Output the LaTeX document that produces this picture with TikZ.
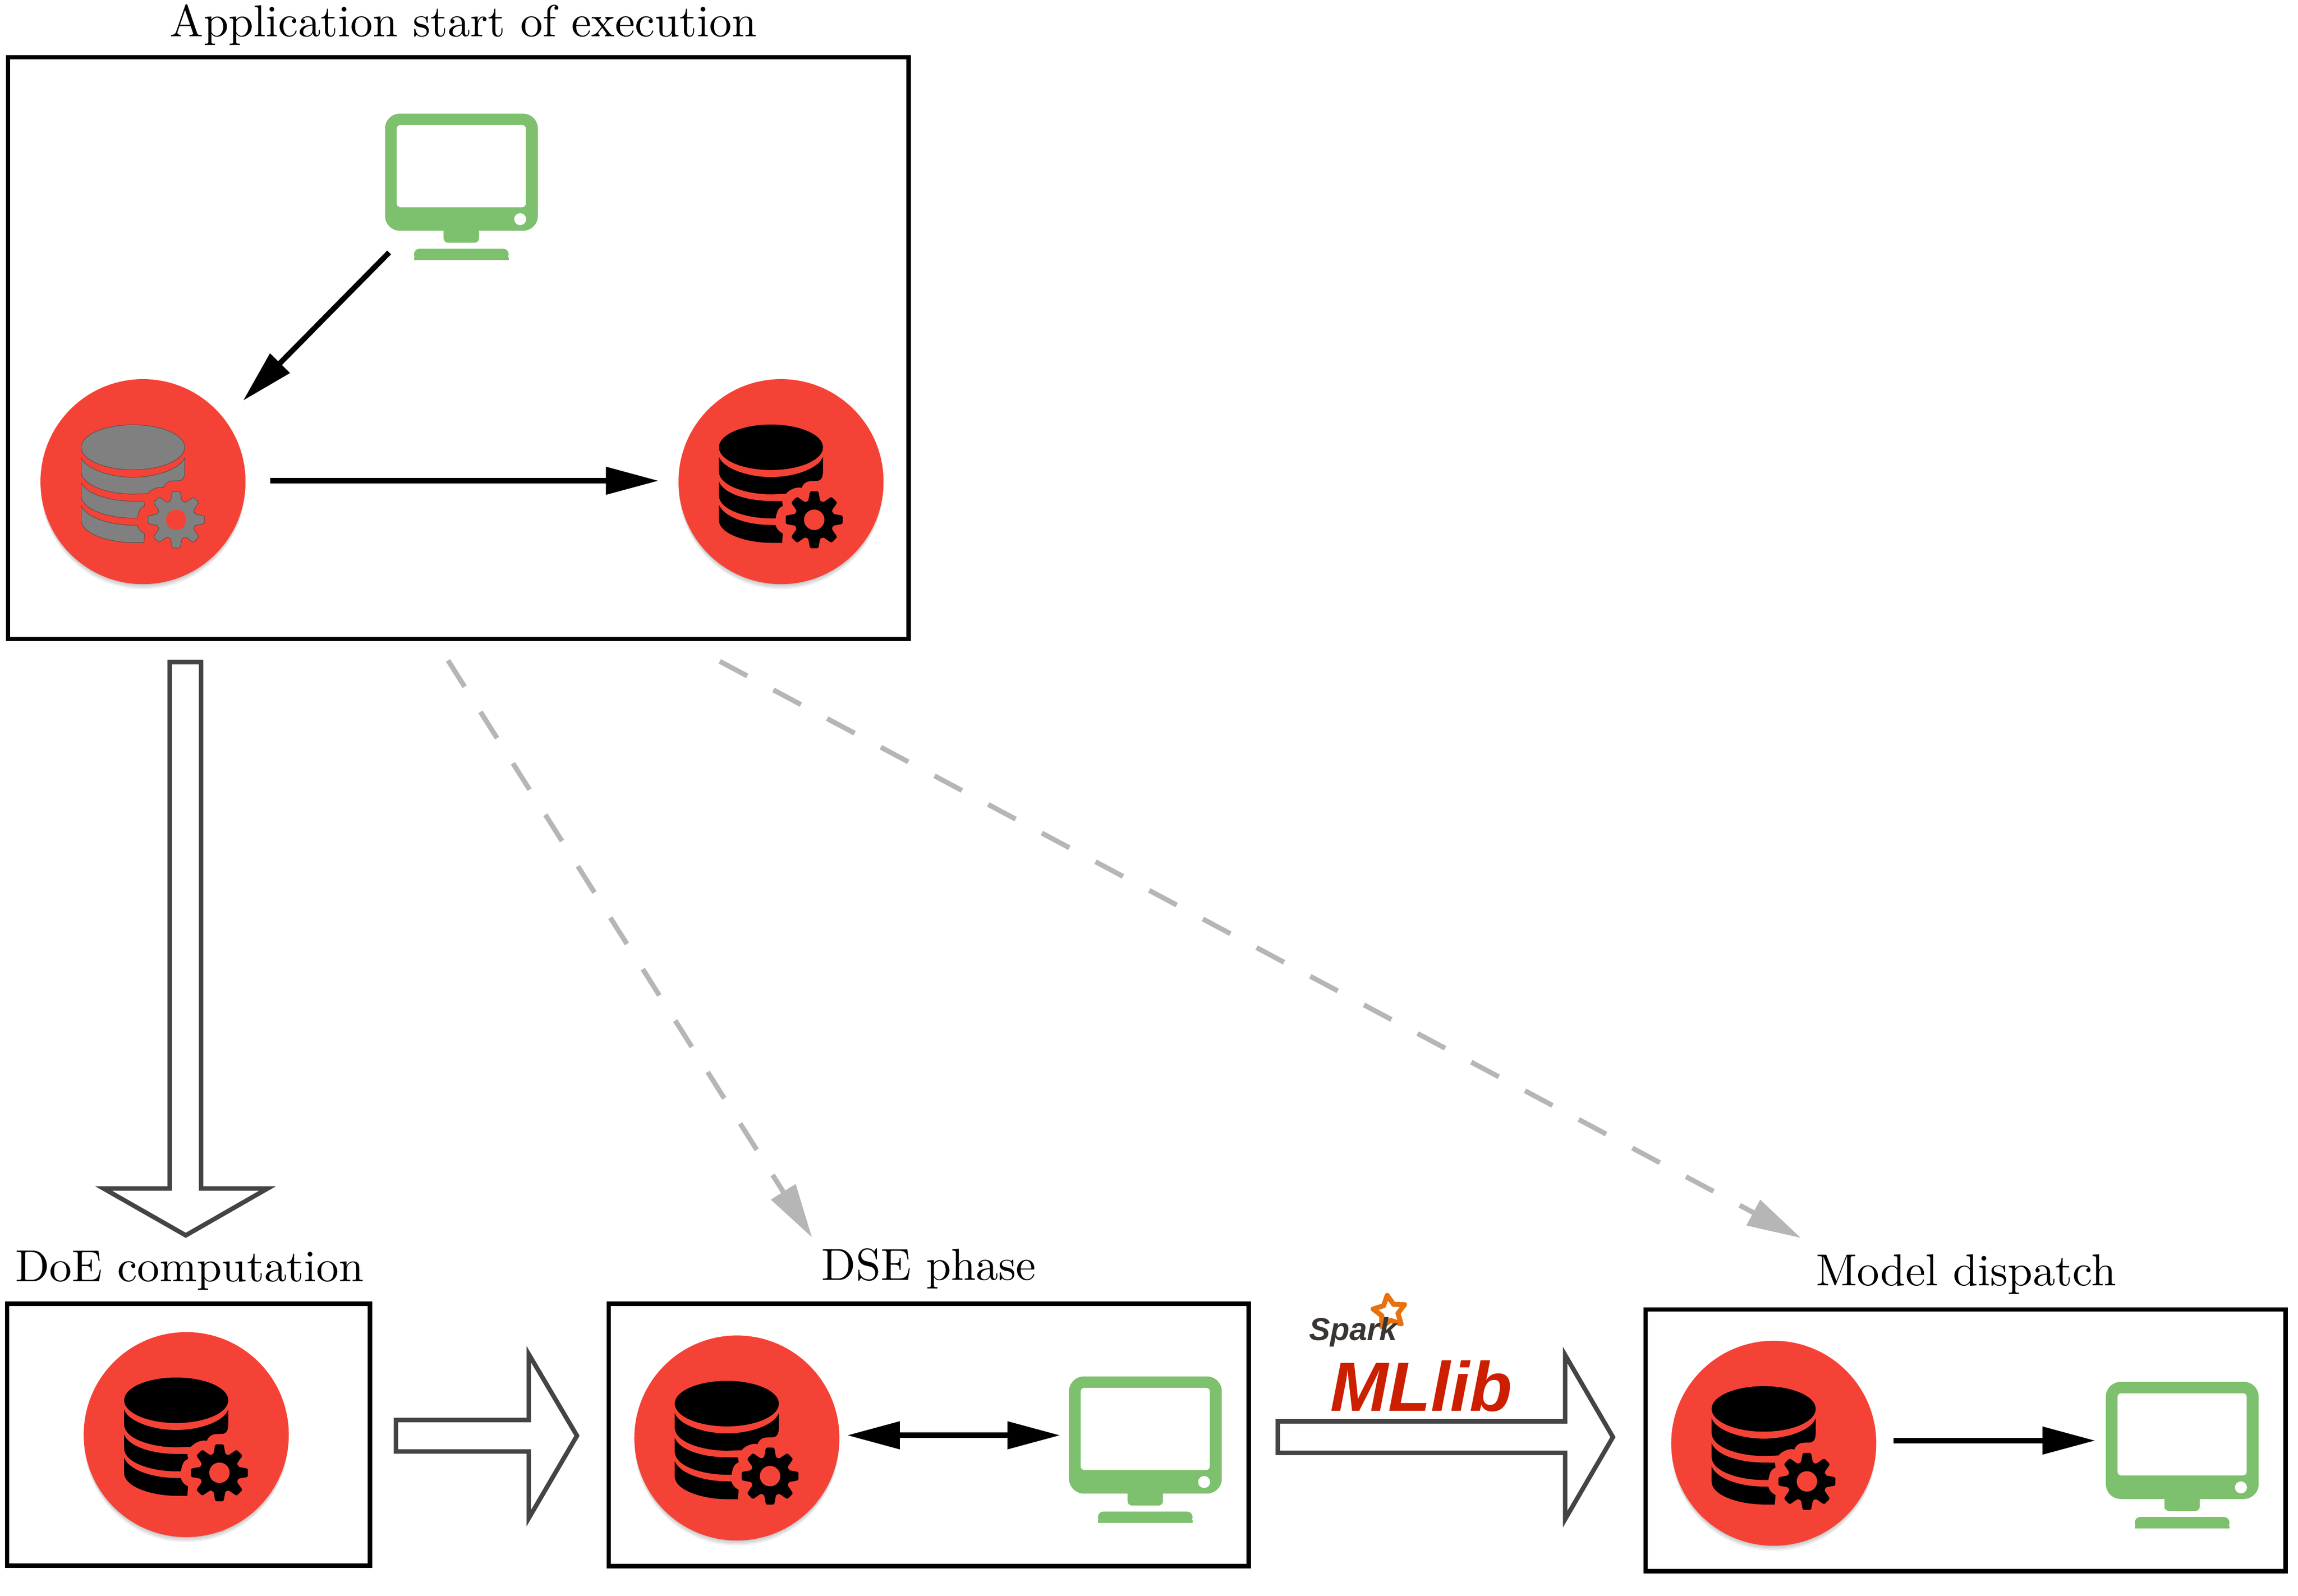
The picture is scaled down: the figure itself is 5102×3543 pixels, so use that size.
\documentclass[tikz,border=0pt]{standalone}
\usepackage{fontspec}
\newfontfamily\logofont{Liberation Sans}
\usetikzlibrary{arrows.meta,calc}
\definecolor{iconred}{HTML}{F44336}
\definecolor{icongreen}{HTML}{7DC06D}
\definecolor{arrowdark}{HTML}{444444}
\definecolor{dashgray}{HTML}{B6B6B6}
\definecolor{mlred}{HTML}{CC1F00}
\definecolor{sparkdark}{HTML}{3A3533}
\definecolor{sparkorange}{HTML}{E8710F}
\tikzset{
  frame/.style={draw=black,line width=0.1cm,rectangle,outer sep=0pt,inner sep=0pt},
  title/.style={scale=2.83,inner sep=0pt,anchor=base},
  disc/.style={circle,fill=iconred,minimum size=4.55cm,inner sep=0pt,outer sep=0.58cm},
  screen/.style={rectangle,minimum width=3.39cm,minimum height=3.25cm,inner sep=0pt,outer sep=0pt},
  thinarrow/.style={line width=0.12cm,draw=black,-{Triangle[length=1.17cm,width=0.59cm]}},
  bothways/.style={line width=0.12cm,draw=black,{Triangle[length=1.17cm,width=0.59cm]}-{Triangle[length=1.17cm,width=0.59cm]}},
  dasharrow/.style={line width=0.11cm,draw=dashgray,dash pattern=on 0.69cm off 0.66cm,-{Triangle[length=1.2cm,width=0.62cm]}},
  hollow/.style={draw=arrowdark,fill=white,line width=0.1cm,line join=miter,miter limit=10},
}
\newcommand{\DbIcon}[3]{% disc node, fill, outline
  \begin{scope}[shift={(#1.center)},scale=1/3]
    \fill[#2,draw=#3,line width=0.3pt] (-67,-229) ellipse [x radius=345,y radius=150];
    \fill[#2,draw=#3,line width=0.3pt] (-412,-159) .. controls (-380,-85) and (-220,-29) .. (-67,-29)
      .. controls (90,-29) and (245,-85) .. (278,-159) -- (278,-70)
      .. controls (278,-30) and (265,-10) .. (245,-7) -- (195,-5)
      .. controls (165,-3) and (145,15) .. (136,40)
      .. controls (120,32) and (65,40) .. (30,80)
      -- (-67,83) .. controls (-220,83) and (-412,30) .. (-412,-70) -- cycle;
    \fill[#2,draw=#3,line width=0.3pt] (-412,6) .. controls (-375,85) and (-220,130) .. (-67,130)
      -- (6,131) -- (10,161) .. controls (-10,170) and (-27,180) .. (-37,243)
      -- (-67,243) .. controls (-220,243) and (-412,190) .. (-412,90) -- cycle;
    \fill[#2,draw=#3,line width=0.3pt] (-412,161) .. controls (-375,240) and (-220,290) .. (-67,290)
      -- (-37,291) .. controls (-30,320) and (-10,335) .. (10,346) -- (6,406)
      -- (-67,406) .. controls (-220,406) and (-412,350) .. (-412,255) -- cycle;
    \begin{scope}[shift={(221,254)}]
      \fill[#2,draw=#3,line width=0.3pt,rounded corners=0.03cm] (-17:130)
        foreach \a in {0,45,...,315} { -- (\a-17:130) -- (\a-8:190) -- (\a+8:190) -- (\a+17:130) } -- cycle;
      \fill[iconred] (0,0) circle [radius=68];
    \end{scope}
  \end{scope}}
\newcommand{\DiscShadow}[2]{% x y
  \foreach \o in {3,6,9,12} {
    \fill[black,opacity=0.055] (#1,#2+\o) circle [radius=227];
  }}
\newcommand{\ScreenIcon}[1]{%
  \begin{scope}[shift={(#1.center)},scale=1/3]
    \fill[icongreen,rounded corners=0.33cm] (-509,-488) rectangle (509,292);
    \fill[white,rounded corners=0.08cm] (-431,-412) rectangle (429,135);
    \fill[white] (391,215) circle [radius=40];
    \fill[icongreen,rounded corners=0.1cm] (-119,250) -- (-119,372) -- (117,372) -- (117,250) -- cycle;
    \fill[icongreen,rounded corners=0.12cm] (-316,488) -- (-316,412) -- (314,412) -- (314,488) -- cycle;
    \fill[icongreen] (-316,470) rectangle (314,488);
  \end{scope}}
\begin{document}
\begin{tikzpicture}[x=0.01cm,y=-0.01cm]
  \useasboundingbox (0,0) rectangle (5102,3543);
  % frames
  \node[frame,minimum width=19.986cm,minimum height=12.91cm] (top) at (1017.7,773) {};
  \node[frame,minimum width=8.05cm,minimum height=5.81cm] (doe) at (418.5,3185.5) {};
  \node[frame,minimum width=14.2cm,minimum height=5.82cm] (dse) at (2062,3186) {};
  \node[frame,minimum width=14.2cm,minimum height=5.805cm] (model) at (4364,3198) {};
  % titles
  \node[title] (ttop) at (1029,81) {Application start of execution};
  \node[title] (tdoe) at (421,2845) {DoE computation};
  \node[title] (tdse) at (2062,2842) {DSE phase};
  \node[title] (tmodel) at (4365,2855) {Model dispatch};
  % discs
  \DiscShadow{317.5}{1069.5}\DiscShadow{1734}{1069.5}\DiscShadow{413.5}{3185.5}\DiscShadow{1636}{3193}\DiscShadow{3938}{3204.7}
  \node[disc] (c1) at (317.5,1069.5) {};
  \node[disc] (c2) at (1734,1069.5) {};
  \node[disc] (c3) at (413.5,3185.5) {};
  \node[disc] (c4) at (1636,3193) {};
  \node[disc] (c5) at (3938,3204.7) {};
  \DbIcon{c1}{gray}{black!70}
  \DbIcon{c2}{black}{black}
  \DbIcon{c3}{black}{black}
  \DbIcon{c4}{black}{black}
  \DbIcon{c5}{black}{black}
  % monitors
  \node[screen] (m1) at (1024.5,415) {};
  \node[screen] (m2) at (2543,3219) {};
  \node[screen] (m3) at (4845,3231) {};
  \ScreenIcon{m1}
  \ScreenIcon{m2}
  \ScreenIcon{m3}
  % black arrows
  \draw[thinarrow] ([xshift=0.09cm,yshift=0.17cm]m1.south west) -- (c1.39.5);
  \draw[thinarrow,shorten <=-0.03cm,shorten >=-0.14cm] ([yshift=0.02cm]c1.east) -- ([yshift=0.02cm]c2.west);
  \draw[bothways,shorten <=-0.41cm,shorten >=0.195cm] ([yshift=0.06cm]c4.east) -- ([yshift=0.06cm]c4.east -| m2.west);
  \draw[thinarrow,shorten <=-0.195cm,shorten >=0.235cm] ([yshift=0.06cm]c5.east) -- ([yshift=0.06cm]c5.east -| m3.west);
  % dashed arrows
  \draw[dasharrow] ([xshift=-0.23cm,yshift=-0.475cm]top.south) -- ([xshift=-0.19cm,yshift=0.22cm]tdse.north west);
  \draw[dasharrow] ([xshift=5.8cm,yshift=-0.495cm]top.south) -- ([xshift=-0.31cm,yshift=0.35cm]tmodel.north west);
  % hollow arrows
  \draw[hollow] (376.7,1470) -- (446.5,1470) -- (446.5,2639) -- (594,2639) -- (412.5,2743) -- (230,2639) -- (376.7,2639) -- cycle;
  \draw[hollow] (879,3153) -- (1174,3153) -- (1174,3007) -- (1281,3188) -- (1174,3371) -- (1174,3223) -- (879,3223) -- cycle;
  \draw[hollow] (2837,3156) -- (3475,3156) -- (3475,3009) -- (3581,3191) -- (3475,3373) -- (3475,3226) -- (2837,3226) -- cycle;
  % logos
  \begin{scope}[shift={(3085,2913)}]
    \draw[sparkorange,fill=white,line width=0.11cm,line join=round]
      (98:0.37cm) -- (134:0.19cm) -- (170:0.37cm) -- (206:0.19cm) -- (242:0.37cm) -- (278:0.19cm)
      -- (314:0.37cm) -- (350:0.19cm) -- (26:0.37cm) -- (62:0.19cm) -- cycle;
  \end{scope}
  \node[font=\logofont\bfseries\itshape\fontsize{20}{24}\selectfont,text=sparkdark,inner sep=0pt,anchor=base] (spark) at (3004,2976) {Spark};
  \node[font=\logofont\bfseries\itshape\fontsize{44}{50}\selectfont,text=mlred,inner sep=0pt,anchor=base] (mllib) at (3155,3133) {MLlib};
\end{tikzpicture}
\end{document}
